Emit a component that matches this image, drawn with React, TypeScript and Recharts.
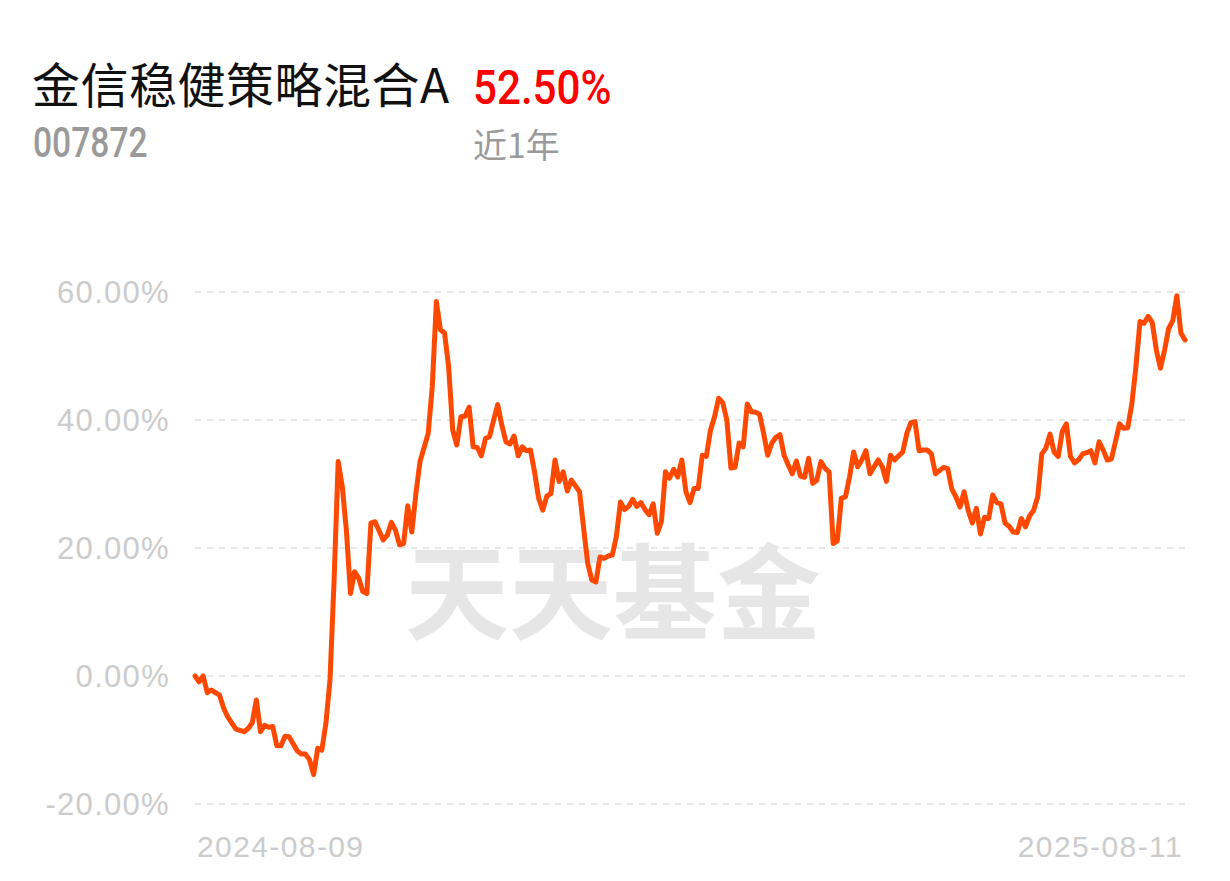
import React from 'react';
import { LineChart, Line, XAxis, YAxis, CartesianGrid } from 'recharts';

// trading day index since 2024-08-09 and cumulative return (%)
const tradingDays = [
  0, 1, 2, 3, 4, 6, 7, 8, 10, 12, 13, 14, 15, 16, 17, 18, 19, 20, 21, 22, 23, 25, 26, 27, 28, 29, 30, 31, 32, 33,
  34, 35, 36, 37, 38, 39, 40, 41, 42, 43, 44, 45, 46, 47, 48, 49, 50, 51, 52, 53, 54, 55, 57, 58, 59, 60, 61, 62, 63, 64,
  65, 66, 67, 68, 69, 70, 71, 72, 73, 74, 75, 76, 77, 78, 79, 80, 81, 82, 83, 84, 85, 86, 87, 88, 89, 90, 91, 92, 93, 94,
  95, 96, 97, 98, 99, 100, 101, 102, 103, 104, 105, 106, 107, 108, 109, 110, 111, 112, 113, 114, 115, 116, 117, 118, 119, 120, 121, 122, 123, 124,
  125, 126, 127, 128, 129, 130, 131, 132, 133, 134, 135, 136, 137, 138, 139, 140, 141, 142, 143, 144, 145, 146, 147, 148, 149, 150, 151, 152, 153, 154,
  155, 156, 157, 158, 159, 160, 161, 162, 163, 164, 165, 166, 167, 168, 169, 170, 171, 172, 173, 174, 175, 176, 177, 178, 179, 180, 181, 182, 183, 184,
  185, 186, 187, 188, 189, 190, 191, 192, 193, 194, 195, 196, 197, 198, 199, 200, 201, 202, 203, 204, 205, 206, 207, 208, 209, 210, 211, 212, 213, 214,
  215, 216, 217, 218, 219, 220, 221, 222, 223, 224, 225, 226, 227, 228, 229, 230, 231, 232, 233, 234, 235, 236, 237, 238, 239, 240, 241, 242,
];

const returnPct = [
  0, -0.9, 0, -2.6, -2.2, -3.0, -5.0, -6.4, -8.3, -8.7, -8.2, -7.3, -3.75, -8.7, -7.7, -8.0, -7.9, -10.9, -10.9, -9.4, -9.5, -11.7, -12.2, -12.2, -13.1, -15.4, -11.3, -11.6, -7.4, -0.6,
  15, 33.5, 29.6, 22.8, 12.9, 16.3, 15.3, 13.2, 12.9, 23.9, 24.1, 22.7, 21.25, 22, 24, 22.8, 20.5, 20.7, 26.6, 22.5, 28.5, 33.5, 37.9, 45.2, 58.5, 54.1, 53.6, 48.3, 38.4, 36.1,
  40.5, 40.6, 42, 35.8, 35.7, 34.4, 37.1, 37.4, 40, 42.4, 39.2, 36.6, 36.25, 37.5, 34.4, 35.8, 35.2, 35.3, 31.9, 27.8, 25.9, 28.1, 28.5, 33.75, 30.4, 31.9, 28.9, 30.6, 29.7, 28.8,
  23.1, 17.6, 15, 14.7, 18.6, 18.4, 18.75, 18.9, 21.8, 27.2, 26, 26.5, 27.6, 26.5, 27.1, 26, 25.2, 26.9, 22.3, 24.1, 31.9, 30.9, 32.3, 31.1, 33.75, 28.8, 27.1, 29.3, 29.3, 34.5,
  34.3, 38.4, 40.5, 43.4, 42.7, 40, 32.5, 32.6, 36.4, 35.8, 42.5, 41.3, 41.2, 40.9, 37.9, 34.5, 36.4, 37.3, 37.7, 34.5, 33, 31.6, 33.6, 31.25, 31.05, 34, 30.1, 30.6, 33.5, 32.45,
  31.9, 20.7, 21.1, 27.8, 28, 31.1, 35, 32.7, 33.75, 35.2, 31.6, 32.7, 33.75, 32.7, 30.4, 34.5, 33.75, 34.4, 35, 37.9, 39.6, 39.75, 35.2, 35.3, 35.3, 34.7, 31.6, 32.1, 32.6, 32.4,
  29.2, 28, 26.4, 28.8, 25.9, 23.9, 26.2, 22.2, 24.8, 24.6, 28.3, 27.1, 26.9, 23.9, 23.4, 22.5, 22.4, 24.6, 23.3, 25, 25.9, 28, 34.7, 35.6, 37.8, 35, 34.3, 38.2, 39.4, 34.3,
  33.3, 33.8, 34.7, 34.9, 35.2, 33.3, 36.6, 35.3, 33.75, 33.9, 36.6, 39.4, 38.7, 38.8, 42.5, 48.3, 55.4, 55.1, 56.2, 55.2, 50.9, 48.1, 50.9, 54.3, 55.5, 59.4, 53.6, 52.5,
];

const yTicks = [-20, 0, 20, 40, 60];
const xTickDays = [0, 242];
const xTickLabels = ['2024-08-09', '2025-08-11'];

const chartData = tradingDays.map((day, i) => ({ day, value: returnPct[i] }));

const axisFont = '"Liberation Sans", Arial, sans-serif';

function YTick(props: any) {
  const { x, y, payload } = props;
  return (
    <text x={x} y={y} dy="0.36em" textAnchor="end" fill="#cccccc" fontSize={31} fontFamily={axisFont} letterSpacing={1.3}>
      {payload.value.toFixed(2) + '%'}
    </text>
  );
}

function XTick(props: any) {
  const { x, y, index } = props;
  const first = index === 0;
  return (
    <text x={first ? x + 2 : x - 2} y={y} dy={21} textAnchor={first ? 'start' : 'end'} fill="#cccccc" fontSize={30} fontFamily={axisFont} letterSpacing={1.4}>
      {xTickLabels[index]}
    </text>
  );
}

export default function App() {
  return (
    <div style={{ position: 'absolute', left: 0, top: 0, width: 1230, height: 881, background: '#fff', overflow: 'hidden' }}>
      <div style={{ position: 'absolute', left: 32, top: 58, fontSize: 48, lineHeight: 1, letterSpacing: 0.5, color: '#111', fontFamily: '"Noto Sans CJK SC", sans-serif', whiteSpace: 'nowrap' }}>
        金信稳健策略混合A
      </div>
      <div style={{ position: 'absolute', left: 473, top: 63, fontSize: 49, lineHeight: 1, color: '#ff0000', fontWeight: 500, fontFamily: 'Roboto, sans-serif', transform: 'scaleX(0.86)', transformOrigin: 'left top', whiteSpace: 'nowrap' }}>
        52.50%
      </div>
      <div style={{ position: 'absolute', left: 33, top: 122, fontSize: 42, lineHeight: 1, color: '#9a9a9a', fontWeight: 500, fontFamily: 'Roboto, sans-serif', transform: 'scaleX(0.8)', transformOrigin: 'left top', whiteSpace: 'nowrap' }}>
        007872
      </div>
      <div style={{ position: 'absolute', left: 473, top: 127, fontSize: 34, lineHeight: 1, color: '#9a9a9a', fontFamily: '"Noto Sans CJK SC", sans-serif', whiteSpace: 'nowrap' }}>
        近1年
      </div>
      <div style={{ position: 'absolute', left: 405, top: 535, fontSize: 104, lineHeight: 1, color: '#e6e6e6', fontWeight: 700, fontFamily: '"Noto Sans CJK SC", sans-serif', whiteSpace: 'nowrap' }}>
        天天基金
      </div>
      <div style={{ position: 'absolute', left: 0, top: 0 }}>
        <LineChart width={1230} height={881} data={chartData} margin={{ top: 292, right: 45, left: 0, bottom: 0 }}>
          <CartesianGrid vertical={false} stroke="#e6e6e6" strokeWidth={2} strokeDasharray="6 6" />
          <XAxis
            dataKey="day"
            type="number"
            domain={[0, 242]}
            ticks={xTickDays}
            interval={0}
            axisLine={false}
            tickLine={false}
            tickSize={0}
            tickMargin={32}
            height={77}
            tick={<XTick />}
          />
          <YAxis
            type="number"
            domain={[-20, 60]}
            ticks={yTicks}
            interval={0}
            axisLine={false}
            tickLine={false}
            tickSize={0}
            tickMargin={25}
            width={195}
            tick={<YTick />}
          />
          <Line
            type="linear"
            dataKey="value"
            stroke="#ff4800"
            strokeWidth={5}
            strokeLinejoin="round"
            strokeLinecap="round"
            dot={false}
            activeDot={false}
            isAnimationActive={false}
          />
        </LineChart>
      </div>
    </div>
  );
}
